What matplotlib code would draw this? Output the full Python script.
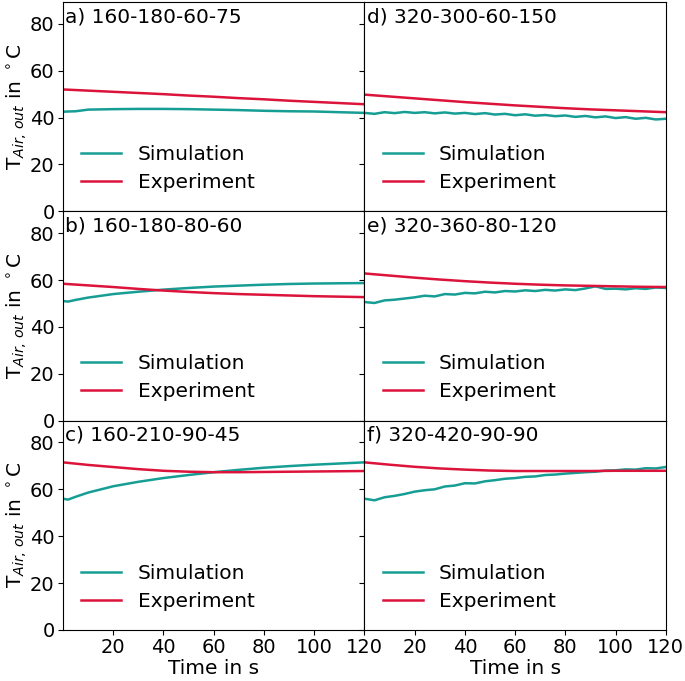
import matplotlib
matplotlib.use('Agg')
import matplotlib.pyplot as plt

# panel labels (left column top to bottom, then right column)
panel_titles = ['a) 160-180-60-75', 'b) 160-180-80-60', 'c) 160-210-90-45',
                'd) 320-300-60-150', 'e) 320-360-80-120', 'f) 320-420-90-90']

# smooth experiment curves, sampled every 10 s
t_exp = [0, 10, 20, 30, 40, 50, 60, 70, 80, 90, 100, 110, 120]
exp_a = [52.0, 51.5, 51.0, 50.5, 50.0, 49.4, 48.9, 48.3, 47.8, 47.2, 46.7, 46.2, 45.7]
exp_b = [58.4, 57.7, 57.0, 56.2, 55.5, 54.9, 54.4, 54.0, 53.7, 53.4, 53.1, 52.9, 52.7]
exp_c = [71.5, 70.4, 69.5, 68.6, 67.9, 67.5, 67.3, 67.3, 67.4, 67.5, 67.6, 67.7, 67.8]
exp_d = [49.8, 49.0, 48.2, 47.4, 46.6, 45.9, 45.2, 44.6, 44.0, 43.5, 43.1, 42.7, 42.3]
exp_e = [62.8, 61.9, 61.0, 60.2, 59.5, 58.9, 58.4, 58.0, 57.7, 57.5, 57.3, 57.1, 57.0]
exp_f = [71.5, 70.5, 69.6, 68.9, 68.4, 68.0, 67.8, 67.8, 67.8, 67.8, 67.9, 67.9, 67.9]

# simulation curves for the left column (fairly smooth)
t_sim_l = [0, 2, 5, 10, 20, 30, 40, 50, 60, 70, 80, 90, 100, 110, 120]
sim_a = [42.5, 42.6, 42.7, 43.4, 43.6, 43.7, 43.7, 43.6, 43.4, 43.2, 42.9, 42.7, 42.6, 42.3, 42.0]
sim_b = [51.0, 50.8, 51.5, 52.5, 54.0, 55.0, 55.9, 56.6, 57.2, 57.6, 58.0, 58.3, 58.5, 58.6, 58.7]
sim_c = [56.0, 55.6, 56.8, 58.6, 61.3, 63.2, 64.8, 66.1, 67.3, 68.3, 69.2, 69.9, 70.5, 71.0, 71.5]

# simulation curves for the right column (wiggly), sampled every 4 s
t_sim_r = [0, 4, 8, 12, 16, 20, 24, 28, 32, 36, 40, 44, 48, 52, 56, 60,
           64, 68, 72, 76, 80, 84, 88, 92, 96, 100, 104, 108, 112, 116, 120]
sim_d = [42.0, 41.6, 42.3, 41.9, 42.4, 42.0, 42.3, 41.8, 42.2, 41.7, 42.0, 41.5, 41.9, 41.3, 41.6, 41.0,
         41.4, 40.8, 41.1, 40.6, 40.9, 40.3, 40.7, 40.1, 40.5, 39.8, 40.2, 39.5, 39.9, 39.2, 39.5]
sim_e = [50.6, 50.2, 51.3, 51.6, 52.1, 52.6, 53.3, 53.0, 54.0, 53.8, 54.5, 54.3, 55.0, 54.7, 55.3, 55.1,
         55.6, 55.3, 55.8, 55.5, 56.0, 55.7, 56.4, 57.3, 56.2, 56.3, 56.0, 56.5, 56.2, 56.8, 56.6]
sim_f = [56.0, 55.3, 56.6, 57.2, 58.0, 59.0, 59.6, 60.0, 61.2, 61.6, 62.6, 62.5, 63.4, 63.9, 64.5, 64.8,
         65.3, 65.5, 66.1, 66.3, 66.7, 67.0, 67.3, 67.5, 68.0, 68.1, 68.5, 68.4, 69.0, 68.9, 69.5]

x_ticks = [20, 40, 60, 80, 100, 120]
y_ticks = [0, 20, 40, 60, 80]

SIM_COLOR = '#169e94'
EXP_COLOR = '#dc143c'
FS = 14.5
TICK_FS = 14

plt.rcParams['font.family'] = ['DejaVu Sans']
plt.rcParams['font.size'] = FS

fig, axes = plt.subplots(3, 2, figsize=(6.85, 6.81), dpi=100, sharex=True, sharey=True)
fig.subplots_adjust(left=0.092, right=0.972, top=0.997, bottom=0.075, wspace=0, hspace=0)

panels = [
    (axes[0, 0], t_sim_l, sim_a, exp_a, panel_titles[0]),
    (axes[1, 0], t_sim_l, sim_b, exp_b, panel_titles[1]),
    (axes[2, 0], t_sim_l, sim_c, exp_c, panel_titles[2]),
    (axes[0, 1], t_sim_r, sim_d, exp_d, panel_titles[3]),
    (axes[1, 1], t_sim_r, sim_e, exp_e, panel_titles[4]),
    (axes[2, 1], t_sim_r, sim_f, exp_f, panel_titles[5]),
]

for ax, t_sim, sim, exp, title in panels:
    ax.plot(t_sim, sim, color=SIM_COLOR, lw=1.8, label='Simulation')
    ax.plot(t_exp, exp, color=EXP_COLOR, lw=1.8, label='Experiment')
    ax.text(0.008, 0.975, title, transform=ax.transAxes, ha='left', va='top', fontsize=FS)
    ax.legend(loc='lower left', bbox_to_anchor=(0.0, 0.005), frameon=False, fontsize=FS,
              handlelength=2.0, labelspacing=0.45)
    ax.set_xlim(0, 120)
    ax.set_ylim(0, 89.3)
    ax.set_xticks(x_ticks)
    ax.set_yticks(y_ticks)
    ax.tick_params(direction='out', length=3.5, width=0.8, labelsize=TICK_FS, pad=2.5)
    for sp in ax.spines.values():
        sp.set_linewidth(0.8)

for ax in axes[:, 0]:
    ax.set_ylabel(r'T$_{Air,\,out}$ in $^\circ$C', fontsize=FS, labelpad=1)
for ax in axes[2, :]:
    ax.set_xlabel('Time in s', fontsize=FS, labelpad=1)

fig.savefig('out.png', dpi=100)
